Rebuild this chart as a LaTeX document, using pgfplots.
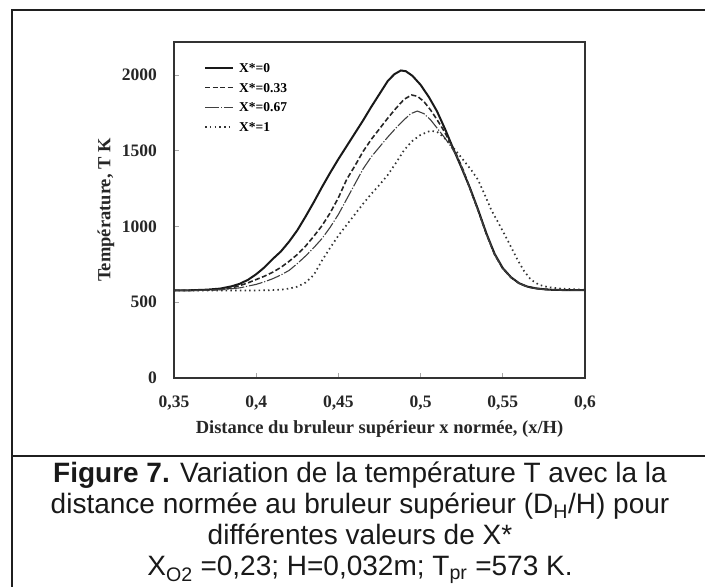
\documentclass[border=0pt]{standalone}
\usepackage{fontspec}
\setmainfont{Liberation Serif}
\newfontfamily\capfont{Liberation Sans}
\usepackage{pgfplots}
\pgfplotsset{compat=1.18}

\pgfplotstableread{
x T
0.350 578
0.360 579
0.370 583
0.378 590
0.385 605
0.390 622
0.395 648
0.400 685
0.405 730
0.410 785
0.415 835
0.420 900
0.425 975
0.430 1065
0.435 1160
0.440 1260
0.445 1355
0.450 1445
0.455 1530
0.460 1615
0.465 1700
0.470 1790
0.475 1875
0.480 1960
0.484 2005
0.488 2030
0.491 2025
0.495 1995
0.500 1935
0.505 1855
0.510 1760
0.515 1640
0.520 1510
0.525 1385
0.530 1255
0.535 1110
0.540 955
0.545 820
0.550 725
0.555 665
0.560 625
0.565 603
0.570 592
0.575 586
0.580 582
0.590 580
0.600 580
}\tzero

\pgfplotstableread{
x T
0.350 578
0.370 580
0.380 586
0.385 594
0.390 610
0.395 628
0.400 650
0.405 672
0.410 698
0.415 730
0.420 770
0.425 815
0.430 870
0.435 935
0.440 1005
0.445 1090
0.450 1190
0.455 1310
0.460 1400
0.465 1495
0.470 1575
0.475 1645
0.480 1715
0.485 1780
0.490 1840
0.4945 1868
0.498 1860
0.502 1825
0.506 1770
0.510 1705
0.514 1635
0.518 1555
0.522 1470
0.526 1370
0.530 1250
0.535 1105
0.540 950
0.545 815
0.550 722
0.555 663
0.560 624
0.565 602
0.570 591
0.575 585
0.580 582
0.590 580
0.600 580
}\tthree

\pgfplotstableread{
x T
0.350 578
0.370 579
0.380 583
0.390 595
0.400 618
0.405 635
0.410 655
0.415 680
0.420 710
0.425 755
0.430 805
0.435 860
0.440 920
0.445 995
0.450 1080
0.455 1180
0.460 1280
0.465 1380
0.470 1460
0.475 1525
0.480 1590
0.485 1650
0.490 1705
0.494 1745
0.498 1762
0.502 1745
0.506 1705
0.510 1650
0.514 1595
0.518 1535
0.522 1465
0.526 1365
0.530 1250
0.535 1105
0.540 950
0.545 815
0.550 722
0.555 663
0.560 624
0.565 602
0.570 591
0.575 585
0.580 582
0.590 580
0.600 580
}\tsix

\pgfplotstableread{
x T
0.350 578
0.380 578
0.400 578
0.410 580
0.415 583
0.420 590
0.425 603
0.430 630
0.435 680
0.440 775
0.445 860
0.450 940
0.455 1010
0.460 1080
0.465 1150
0.470 1215
0.475 1275
0.480 1340
0.485 1420
0.490 1505
0.495 1565
0.500 1605
0.506 1632
0.510 1625
0.514 1590
0.518 1545
0.5226 1485
0.527 1425
0.531 1370
0.535 1307
0.539 1210
0.543 1109
0.547 1030
0.5506 957
0.555 865
0.559 779
0.563 705
0.567 650
0.572 615
0.5774 600
0.585 590
0.600 582
}\tone

\begin{document}
\begin{tikzpicture}[x=1bp,y=1bp]
\useasboundingbox (0,0) rectangle (705,587);
\clip (0,0) rectangle (705,587);
\draw[line width=2bp, color=black!88] (12,-20) -- (12,577) -- (730,577);
\draw[line width=1.5bp, color=black!88] (12,131) -- (730,131);

\begin{axis}[
  at={(174bp,209bp)}, anchor=south west,
  scale only axis, width=411bp, height=336bp,
  xmin=0.35, xmax=0.6, ymin=0, ymax=2218,
  axis line style={line width=1.6bp, color=black!80},
  tick align=inside, xtick pos=bottom, ytick pos=left,
  major tick length=5bp,
  tick style={color=black!35, line width=0.8bp},
  xtick={0.35,0.4,0.45,0.5,0.55,0.6},
  xticklabels={{0,35},{0,4},{0,45},{0,5},{0,55},{0,6}},
  ytick={0,500,1000,1500,2000},
  yticklabels={0,500,1000,1500,2000},
  xticklabel style={font=\bfseries\fontsize{17.5bp}{20bp}\selectfont, anchor=north, inner sep=0pt, yshift=-18bp, color=black!85},
  yticklabel style={font=\bfseries\fontsize{17.5bp}{20bp}\selectfont, anchor=east, inner sep=0pt, xshift=-17bp, color=black!85},
  legend cell align=left,
  legend image code/.code={\draw[#1] (0bp,0bp) -- (28bp,0bp);},
  legend style={draw=none, fill=none, at={(0.073,0.936)}, anchor=north west,
     font=\bfseries\fontsize{13.5bp}{15bp}\selectfont, inner sep=0pt,
     nodes={inner sep=0pt, text height=9bp, text depth=0bp},
     row sep=10.5bp, column sep=5bp},
]
\addplot[line width=2bp, color=black!90] table[x=x,y=T] {\tzero};
\addlegendentry{X*=0}
\addplot[line width=1.6bp, color=black!85, dash pattern=on 5bp off 2.5bp] table[x=x,y=T] {\tthree};
\addlegendentry{X*=0.33}
\addplot[line width=1.1bp, color=black!75, dash pattern=on 14bp off 1.8bp on 1.2bp off 1.8bp] table[x=x,y=T] {\tsix};
\addlegendentry{X*=0.67}
\addplot[line width=1.7bp, color=black!80, dash pattern=on 1.5bp off 3.2bp] table[x=x,y=T] {\tone};
\addlegendentry{X*=1}
\end{axis}

\node[font=\bfseries\fontsize{18.5bp}{20bp}\selectfont, color=black!85, rotate=90] at (106,377) {Température, T K};
\node[font=\bfseries\fontsize{18.5bp}{20bp}\selectfont, color=black!85] at (379.5,158) {Distance du bruleur supérieur x normée, (x/H)};

\begin{scope}[font=\capfont\fontsize{28bp}{30bp}\selectfont, color=black!90]
\node[anchor=base] at (360,104) {\textbf{Figure 7.} Variation de la température T avec la la};
\node[anchor=base] at (360,73) {distance normée au bruleur supérieur (D\textsubscript{H}/H) pour};
\node[anchor=base] at (360,42) {différentes valeurs de X*};
\node[anchor=base] at (360,11) {X\textsubscript{O2} =0,23; H=0,032m; T\textsubscript{pr} =573 K.};
\end{scope}
\end{tikzpicture}
\end{document}
